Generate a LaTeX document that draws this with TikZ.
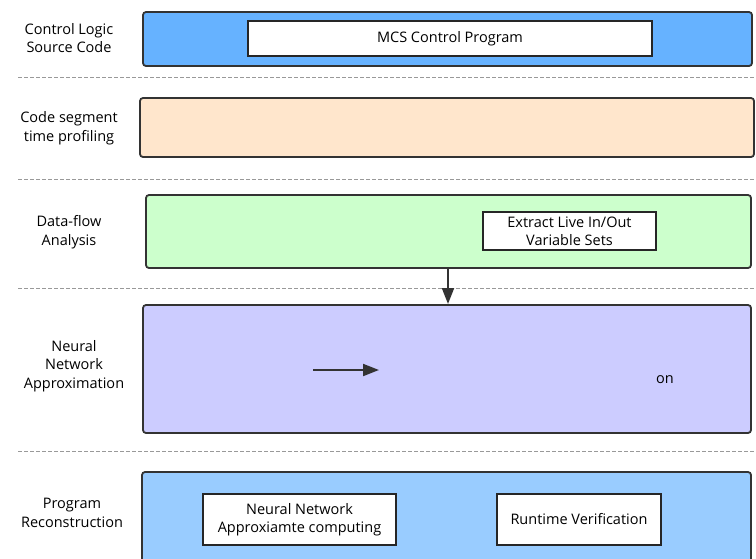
\documentclass[tikz,border=0pt]{standalone}
\usepackage{fontspec}
\setmainfont{Open Sans}
\usetikzlibrary{arrows.meta}
\begin{document}
\begin{tikzpicture}[x=1pt,y=-1pt,
  band/.style={draw=black!80,line width=1.8pt,rounded corners=3pt},
  inbox/.style={draw=black!85,line width=1.6pt,fill=white,align=center,font=\fontsize{14.5}{18.5}\selectfont},
  lane/.style={align=center,font=\fontsize{14.5}{18.5}\selectfont},
  sep/.style={draw=black!40,dashed,line width=0.8pt,dash pattern=on 4pt off 2pt},
  flow/.style={draw=black!80,line width=2pt,-{Triangle[length=16pt,width=12pt]}}]
\useasboundingbox (0,0) rectangle (756,558);
% separators
\draw[sep] (18,77) -- (756,77);
\draw[sep] (18,179) -- (756,179);
\draw[sep] (18,288) -- (756,288);
\draw[sep] (18,451) -- (756,451);
% lanes
\draw[band,fill={rgb,255:red,102;green,178;blue,255}] (143,12) rectangle (752,66);
\draw[band,fill={rgb,255:red,255;green,230;blue,204}] (140,98) rectangle (754,157);
\draw[band,fill={rgb,255:red,204;green,255;blue,204}] (146,195) rectangle (751,268);
\draw[band,fill={rgb,255:red,204;green,204;blue,255}] (143,305) rectangle (751,433);
\draw[band,fill={rgb,255:red,153;green,204;blue,255}] (142,472) rectangle (751,566);
% lane titles
\node[lane] (t1) at (69,38) {Control Logic\\Source Code};
\node[lane] (t2) at (69,128) {Code segment\\time profiling};
\node[lane] (t3) at (69,232) {Data-flow\\Analysis};
\node[lane] (t4) at (74,366) {Neural\\Network\\Approximation};
\node[lane] (t5) at (72,513) {Program\\Reconstruction};
% inner boxes
\node[inbox,minimum width=404pt,minimum height=35pt] (mcs) at (450,38.5) {MCS Control Program};
\node[inbox,minimum width=173pt,minimum height=38pt,inner sep=1pt] (live) at (569.5,231) {Extract Live In/Out\\Variable Sets};
\node[inbox,minimum width=193pt,minimum height=51pt] (nnac) at (299.5,519.5) {Neural Network\\Approxiamte computing};
\node[inbox,minimum width=164pt,minimum height=51pt] (rv) at (579,519.5) {Runtime Verification};
% loose fragments inside the approximation lane
\coordinate (a0) at (313,370);
\coordinate (a1) at (379,370);
\draw[flow] (a0) -- (a1);
\node[lane] (on) at (665,380) {on};
% flow from data-flow lane into approximation lane
\coordinate (d0) at (448,268);
\coordinate (d1) at (448,304);
\draw[flow] (d0) -- (d1);
\end{tikzpicture}
\end{document}
